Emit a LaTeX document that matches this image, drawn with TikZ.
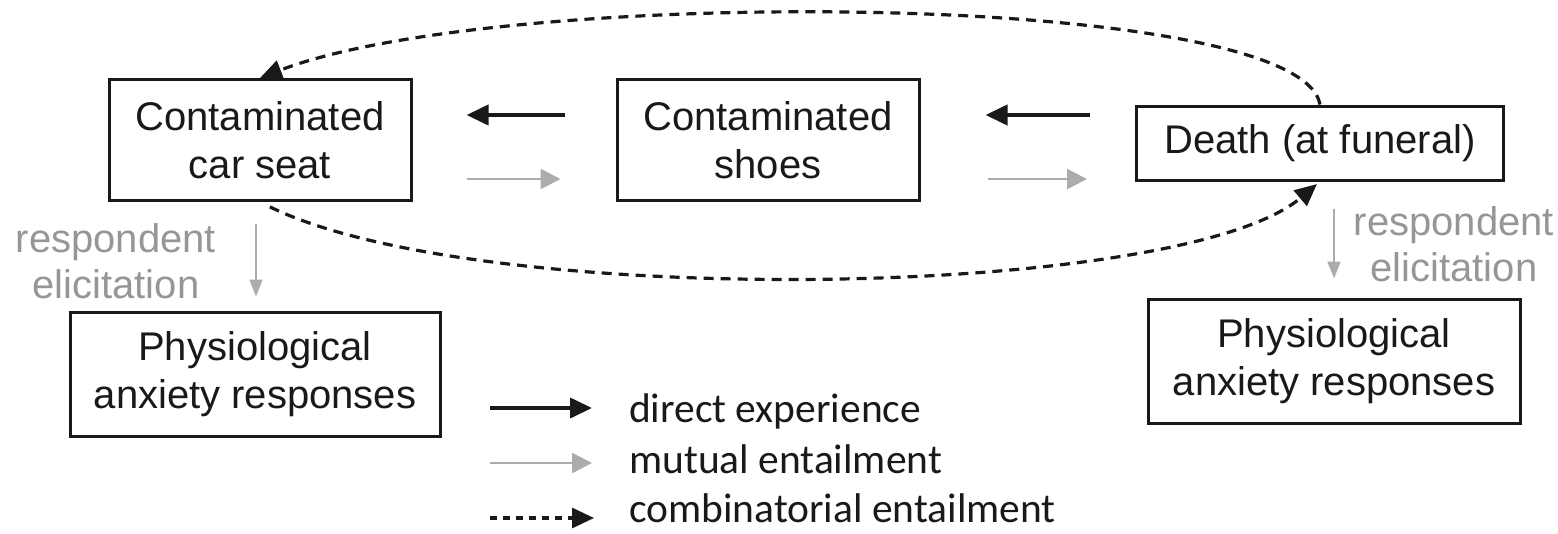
\documentclass[tikz,border=0pt]{standalone}
\usepackage{fontspec}
\setmainfont{Liberation Sans}
\newfontfamily\legendfont{Carlito}
\usetikzlibrary{arrows.meta}
\definecolor{linkgray}{RGB}{172,172,172}
\definecolor{labelgray}{RGB}{150,150,150}
\definecolor{ink}{RGB}{25,25,25}

\begin{document}
\begin{tikzpicture}[x=1pt,y=-1pt,
  box/.style={draw=ink, line width=3pt, inner sep=0pt, align=center,
              font=\fontsize{40}{48}\selectfont, text=ink},
  lab/.style={align=center, inner sep=0pt, text=labelgray,
              font=\fontsize{40}{46}\selectfont},
  legtext/.style={anchor=base west, inner sep=0pt, text=ink,
                  font=\legendfont\fontsize{41.5}{46}\selectfont},
  direct/.style={draw=ink, line width=4pt,
                 -{Triangle[length=22pt,width=20pt]}},
  mutual/.style={draw=linkgray, line width=2.6pt,
                 -{Triangle[length=20pt,width=20pt]}},
  combo/.style={draw=ink, line width=3.2pt, dash pattern=on 10pt off 7pt,
                -{Triangle[length=22pt,width=20pt]}},
  elicit/.style={draw=linkgray, line width=2pt,
                 -{Triangle[length=17pt,width=13pt]}}]

\useasboundingbox (0,0) rectangle (1558,533);

% stimulus boxes
\node[box, minimum width=302pt, minimum height=121pt] (seat)  at (260,140) {Contaminated\\car seat};
\node[box, minimum width=302pt, minimum height=121pt] (shoes) at (768,140) {Contaminated\\shoes};
\node[box, minimum width=367pt, minimum height=74pt]  (death) at (1320,143) {Death (at funeral)};

% response boxes
\node[box, minimum width=370pt, minimum height=124pt] (phys1) at (255,374) {Physiological\\anxiety responses};
\node[box, minimum width=372pt, minimum height=124pt] (phys2) at (1334,361) {Physiological\\anxiety responses};

% respondent elicitation labels
\node[lab] (lblL) at (116,261) {respondent\\elicitation};
\node[lab] (lblR) at (1454,244) {respondent\\elicitation};

% trained relations
\draw[direct, shorten <=51pt, shorten >=54pt] ([yshift=25pt]shoes.west) -- ([yshift=25pt]seat.east);
\draw[mutual, shorten <=54pt, shorten >=55pt] ([yshift=-39pt]seat.east) -- ([yshift=-39pt]shoes.west);
\draw[direct, shorten <=45pt, shorten >=65pt] ([yshift=25pt]shoes.east -| death.west) -- ([yshift=25pt]shoes.east);
\draw[mutual, shorten <=67pt, shorten >=48pt] ([yshift=-39pt]shoes.east) -- ([yshift=-39pt]shoes.east -| death.west);

% derived relations
\draw[combo] (death.north) .. controls (1300,-10) and (500,-15) .. (seat.north);
\draw[combo, shorten <=11pt, shorten >=4pt] (seat.south) .. controls (480,310) and (1180,300) .. (death.south);

% elicited responses
\draw[elicit, shorten <=22pt, shorten >=14pt] ([xshift=-4pt]seat.south) -- ([xshift=-4pt]seat.south |- phys1.north);
\draw[elicit, shorten <=27pt, shorten >=19pt] (phys2.north |- death.south) -- (phys2.north);

% legend
\coordinate (d0) at (490,408); \coordinate (d1) at (592,408);
\coordinate (m0) at (490,463); \coordinate (m1) at (592,463);
\coordinate (c0) at (490,518); \coordinate (c1) at (594,518);
\draw[direct] (d0) -- (d1);
\draw[mutual] (m0) -- (m1);
\draw[combo, dash pattern=on 7pt off 6pt] (c0) -- (c1);
\node[legtext] (ldirect) at (629,422) {direct experience};
\node[legtext] (lmutual) at (629,473) {mutual entailment};
\node[legtext] (lcombo)  at (629,522) {combinatorial entailment};

\end{tikzpicture}
\end{document}
